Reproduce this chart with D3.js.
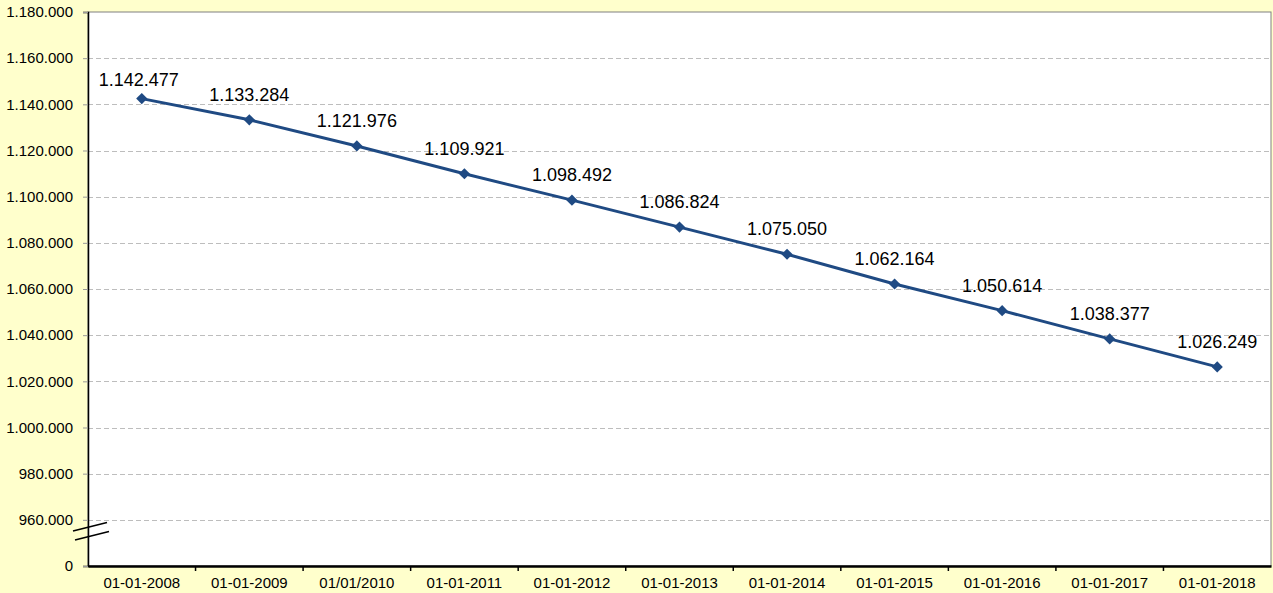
<!DOCTYPE html>
<html>
<head>
<meta charset="utf-8">
<script src="https://cdn.jsdelivr.net/npm/d3@7"></script>
<style>
  html, body { margin: 0; padding: 0; background: #FFFFCC; }
  svg { display: block; font-family: "Liberation Sans", Arial, sans-serif; }
</style>
</head>
<body>
<div id="viz"></div>
<script>
var categories = ['01-01-2008', '01-01-2009', '01/01/2010', '01-01-2011', '01-01-2012', '01-01-2013',
    '01-01-2014', '01-01-2015', '01-01-2016', '01-01-2017', '01-01-2018'];
var values = [1142477, 1133284, 1121976, 1109921, 1098492, 1086824, 1075050, 1062164, 1050614, 1038377, 1026249];
var yTicks = [940000, 960000, 980000, 1000000, 1020000, 1040000, 1060000, 1080000, 1100000,
    1120000, 1140000, 1160000, 1180000];

var width = 1273;
var height = 593;
var margin = { top: 12, right: 2, bottom: 27, left: 88 };

var fmt = function (v) {
    if (v === 940000) return '0';   // axis break: bottom tick shown as 0
    return d3.format(',')(v).replace(/,/g, '.');
};

var svg = d3.select('#viz')
    .append('svg')
    .attr('width', width)
    .attr('height', height);

var x = d3.scaleBand()
    .domain(categories)
    .range([margin.left, width - margin.right]);

var y = d3.scaleLinear()
    .domain([940000, 1180000])
    .range([height - margin.bottom, margin.top]);

// plot area
svg.append('rect')
    .attr('x', margin.left)
    .attr('y', margin.top)
    .attr('width', width - margin.right - margin.left)
    .attr('height', height - margin.bottom - margin.top)
    .attr('fill', '#fff')
    .attr('stroke', '#808080')
    .attr('stroke-width', 1);

// grid lines
svg.append('g')
    .selectAll('line')
    .data(yTicks.filter(function (d) { return d > 940000 && d < 1180000; }))
    .enter().append('line')
    .attr('x1', margin.left)
    .attr('x2', width - margin.right)
    .attr('y1', function (d) { return Math.round(y(d)) + 0.5; })
    .attr('y2', function (d) { return Math.round(y(d)) + 0.5; })
    .attr('stroke', '#BDBDBD')
    .attr('stroke-dasharray', '5,3');

// y axis
var yAxis = svg.append('g')
    .attr('transform', 'translate(' + margin.left + ',0)')
    .call(d3.axisLeft(y).tickValues(yTicks).tickFormat(fmt).tickSize(5).tickPadding(10));
yAxis.select('.domain').attr('stroke', '#000').attr('stroke-width', 1.5);
yAxis.selectAll('.tick line').attr('stroke', '#999');
yAxis.selectAll('.tick text').attr('font-size', 15).attr('fill', '#000');

// x axis
var xAxis = svg.append('g')
    .attr('transform', 'translate(0,' + (height - margin.bottom) + ')')
    .call(d3.axisBottom(x).tickSize(0).tickPadding(11));
xAxis.select('.domain').attr('stroke', '#000').attr('stroke-width', 2.5);
xAxis.selectAll('.tick text').attr('font-size', 15).attr('fill', '#000');

// tick marks between categories
svg.append('g')
    .selectAll('line')
    .data(categories.slice(1))
    .enter().append('line')
    .attr('x1', function (d) { return x(d); })
    .attr('x2', function (d) { return x(d); })
    .attr('y1', height - margin.bottom)
    .attr('y2', height - margin.bottom + 5)
    .attr('stroke', '#000')
    .attr('stroke-width', 1.5);

// axis break marks
var brk = svg.append('g').attr('stroke', '#000').attr('stroke-width', 1.8);
brk.append('line').attr('x1', 73).attr('y1', 531).attr('x2', 107).attr('y2', 522.5);
brk.append('line').attr('x1', 75).attr('y1', 540).attr('x2', 109).attr('y2', 531.5);

// series line
var cx = function (d, i) { return x(categories[i]) + x.bandwidth() / 2; };

var line = d3.line()
    .x(function (d, i) { return cx(d, i); })
    .y(function (d) { return y(d); });

svg.append('path')
    .datum(values)
    .attr('d', line)
    .attr('fill', 'none')
    .attr('stroke', '#1F4A83')
    .attr('stroke-width', 3);

svg.append('g')
    .selectAll('path')
    .data(values)
    .enter().append('path')
    .attr('d', d3.symbol().type(d3.symbolDiamond2).size(80))
    .attr('transform', function (d, i) { return 'translate(' + cx(d, i) + ',' + y(d) + ')'; })
    .attr('fill', '#1F4A83');

// labels; the first one sits a bit lower and to the left, as in the original
svg.append('g')
    .selectAll('text')
    .data(values)
    .enter().append('text')
    .attr('x', function (d, i) { return cx(d, i) + (i === 0 ? -3 : 0); })
    .attr('y', function (d, i) { return y(d) - (i === 0 ? 13 : 19); })
    .attr('text-anchor', 'middle')
    .attr('font-size', 18)
    .attr('fill', '#000')
    .text(function (d) { return fmt(d); });
</script>
</body>
</html>
